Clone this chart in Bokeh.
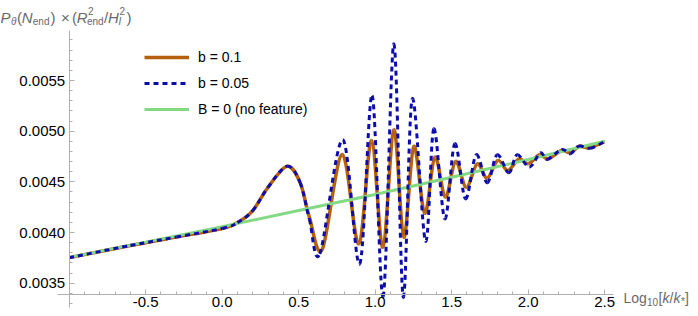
from bokeh.plotting import figure
from bokeh.models import (Range1d, FixedTicker, PrintfTickFormatter, Label,
                          Legend, LegendItem, ColumnDataSource)
from bokeh.embed import file_html
from bokeh.resources import INLINE

# ---------------- data ----------------
# x = Log10[k/k*],  y = P_theta(N_end) * (R_end^2 / H_I^2)
b01_x = [-1.0, -0.6, -0.3, 0.0, 0.1, 0.2, 0.3, 0.425, 0.51, 0.57, 0.654, 0.784,
         0.893, 0.976, 1.050, 1.122, 1.187, 1.252, 1.324, 1.390, 1.459, 1.525,
         1.595, 1.667, 1.732, 1.801, 1.867, 1.939, 2.000, 2.074, 2.131, 2.218,
         2.276, 2.335, 2.396, 2.5]
b01_y = [0.003752, 0.003872, 0.003955, 0.004040, 0.004098, 0.004217, 0.004447,
         0.004654, 0.004490, 0.004150, 0.003833, 0.004770, 0.003889, 0.004908,
         0.003855, 0.005014, 0.003954, 0.004849, 0.004191, 0.004743, 0.004349,
         0.004701, 0.004447, 0.004678, 0.004536, 0.004711, 0.004612, 0.004727,
         0.004678, 0.004767, 0.004727, 0.004809, 0.004787, 0.004852, 0.004836,
         0.004898]

b005_x = [-1.0, -0.6, -0.3, 0.0, 0.1, 0.2, 0.3, 0.425, 0.51, 0.57, 0.638, 0.788,
          0.899, 0.980, 1.052, 1.122, 1.183, 1.242, 1.329, 1.383, 1.455, 1.520,
          1.590, 1.660, 1.732, 1.797, 1.873, 1.928, 2.008, 2.080, 2.124, 2.218,
          2.276, 2.331, 2.407, 2.5]
b005_y = [0.003752, 0.003872, 0.003955, 0.004040, 0.004098, 0.004217, 0.004447,
          0.004654, 0.004490, 0.004130, 0.003790, 0.004915, 0.003691, 0.005352,
          0.003370, 0.005862, 0.003365, 0.005319, 0.003914, 0.005023, 0.004135,
          0.004875, 0.004333, 0.004767, 0.004491, 0.004767, 0.004589, 0.004767,
          0.004645, 0.004787, 0.004721, 0.004819, 0.004777, 0.004852, 0.004832,
          0.004898]

nofeat_x = [-1.0, -0.5, 0.0, 0.5, 1.0, 1.5, 2.0, 2.5]
nofeat_y = [0.003755, 0.003905, 0.004058, 0.004217, 0.004376, 0.004545,
            0.004720, 0.004900]

labels = ["b = 0.1", "b = 0.05", "B = 0 (no feature)"]

x_ticks = [-0.5, 0.0, 0.5, 1.0, 1.5, 2.0, 2.5]
x_minor = [round(-0.9 + 0.1 * i, 1) for i in range(35)]
y_ticks = [0.0035, 0.0040, 0.0045, 0.0050, 0.0055]
y_minor = [round(0.0033 + 0.0001 * i, 4) for i in range(27)]

# ---------------- figure (frame = whole canvas, axes at fixed spots) -------
W, H = 698, 316
X0, X1 = -1.449, 3.1131
Y0, Y1 = 0.0031714, 0.0062894
X_AXIS_AT = 0.0033885
Y_AXIS_AT = -1.0

p = figure(width=W, height=H, output_backend="svg", toolbar_location=None,
           x_range=Range1d(X0, X1), y_range=Range1d(Y0, Y1),
           min_border_left=0, min_border_right=0, min_border_top=0,
           min_border_bottom=0)
p.grid.visible = False
p.outline_line_color = None
p.background_fill_color = "white"
p.border_fill_color = "white"

FONT = "Liberation Sans"
AX = "#b0b0b0"
for ax in (p.xaxis[0], p.yaxis[0]):
    ax.axis_line_color = AX
    ax.major_tick_line_color = AX
    ax.minor_tick_line_color = AX
    ax.major_tick_in = 5
    ax.major_tick_out = 0
    ax.minor_tick_in = 3
    ax.minor_tick_out = 0
    ax.major_label_text_font = FONT
    ax.major_label_text_color = "black"
    ax.major_label_text_font_size = "15px"

xa = p.xaxis[0]
xa.fixed_location = X_AXIS_AT
xa.bounds = (-1.0765, 2.5575)
xa.ticker = FixedTicker(ticks=x_ticks, minor_ticks=x_minor)
xa.formatter = PrintfTickFormatter(format="%.1f")
xa.major_label_standoff = 3

ya = p.yaxis[0]
ya.fixed_location = Y_AXIS_AT
ya.bounds = (0.0032602, 0.0059934)
ya.ticker = FixedTicker(ticks=y_ticks, minor_ticks=y_minor)
ya.formatter = PrintfTickFormatter(format="%.4f")
ya.major_label_standoff = 4


def smooth_source(xs, ys):
    """Bezier segments (Catmull-Rom tangents) through the read points."""
    n = len(xs)
    d = dict(x0=[], y0=[], x1=[], y1=[], cx0=[], cy0=[], cx1=[], cy1=[])
    for i in range(n - 1):
        im, ip = max(i - 1, 0), min(i + 2, n - 1)
        d["x0"].append(xs[i]); d["y0"].append(ys[i])
        d["x1"].append(xs[i + 1]); d["y1"].append(ys[i + 1])
        d["cx0"].append(xs[i] + (xs[i + 1] - xs[im]) / 6)
        d["cy0"].append(ys[i] + (ys[i + 1] - ys[im]) / 6)
        d["cx1"].append(xs[i + 1] - (xs[ip] - xs[i]) / 6)
        d["cy1"].append(ys[i + 1] - (ys[ip] - ys[i]) / 6)
    return ColumnDataSource(d)


ORANGE = "#b5600c"
BLUE = "#0c0caa"
GREEN = "#84d984"

r_or = p.bezier(x0="x0", y0="y0", x1="x1", y1="y1", cx0="cx0", cy0="cy0",
                cx1="cx1", cy1="cy1", source=smooth_source(b01_x, b01_y),
                line_color=ORANGE, line_width=3.5)
r_gr = p.line(nofeat_x, nofeat_y, line_color=GREEN, line_width=3)
r_bl = p.bezier(x0="x0", y0="y0", x1="x1", y1="y1", cx0="cx0", cy0="cy0",
                cx1="cx1", cy1="cy1", source=smooth_source(b005_x, b005_y),
                line_color=BLUE, line_width=3, line_dash="5 4")

legend = Legend(items=[LegendItem(label=labels[0], renderers=[r_or]),
                       LegendItem(label=labels[1], renderers=[r_bl]),
                       LegendItem(label=labels[2], renderers=[r_gr])],
                location=(144, 197), orientation="vertical",
                glyph_width=45, glyph_height=20, label_height=20,
                label_width=10, spacing=6, padding=0, margin=0,
                label_standoff=9, label_text_font=FONT,
                label_text_font_size="14px", label_text_color="black",
                border_line_alpha=0, background_fill_alpha=0)
p.add_layout(legend)

GRAY = "#6a6a6a"


def piece(txt, sx, sy, size, italic=False):
    p.add_layout(Label(x=sx, y=sy, x_units="screen", y_units="screen",
                       text=txt, text_font=FONT, text_font_size=f"{size}px",
                       text_font_style="italic" if italic else "normal",
                       text_color=GRAY, text_align="left",
                       text_baseline="alphabetic"))


# y-axis title at top left: P_theta(N_end) x (R_end^2 / H_I^2)
MAIN, SUB, SUP = 298.7, 295.5, 305.3
for txt, cx, sy, it in [("P", 0, MAIN, True), ("θ", 10.5, SUB, True),
                        ("(", 16.5, MAIN, False), ("N", 21.3, MAIN, True),
                        ("end", 32.3, SUB, False), (")", 50, MAIN, False),
                        ("×", 60.5, MAIN, False), ("(", 71.5, MAIN, False),
                        ("R", 76.3, MAIN, True), ("2", 87.5, SUP, False),
                        ("end", 86.5, SUB, False), ("/", 103.5, MAIN, False),
                        ("H", 107.5, MAIN, True), ("2", 119, SUP, False),
                        ("I", 118, SUB, True), (")", 126, MAIN, False)]:
    piece(txt, cx, sy, 15 if sy == MAIN else 10, it)

# x-axis title at right end: Log10[k/k*]
XM, XS = 18.5, 15.0
for txt, rx, sy, size, it in [("Log", 623, XM, 14, False),
                              ("10", 646.5, XS, 10, False),
                              ("[", 658, XM, 14, False),
                              ("k", 662, XM, 14, True),
                              ("/", 669, XM, 14, False),
                              ("k", 673, XM, 14, True),
                              ("*", 680.5, XS, 10, False),
                              ("]", 684.5, XM, 14, False)]:
    piece(txt, rx, sy, size, it)

open("out.html", "w").write(file_html(p, INLINE))
